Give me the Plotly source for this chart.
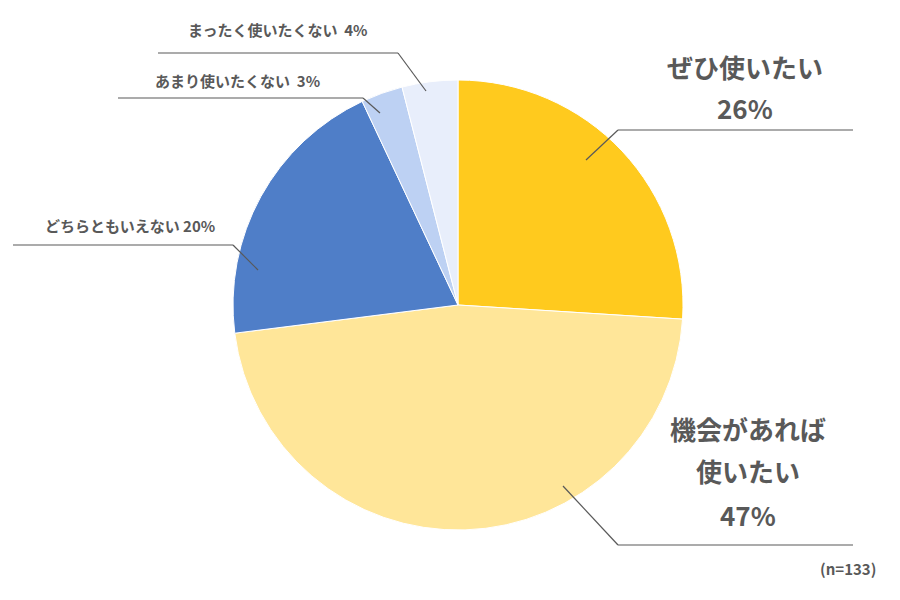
import plotly.graph_objects as go

labels = ["ぜひ使いたい", "機会があれば使いたい", "どちらともいえない", "あまり使いたくない", "まったく使いたくない"]
values = [26, 47, 20, 3, 4]
colors = ["#FFCA1E", "#FFE699", "#4F7EC8", "#BDD1F3", "#E8EEFB"]

W, H = 900, 600
FONT = "Noto Sans CJK JP"
GREY = "#595959"

fig = go.Figure(go.Pie(
    labels=labels, values=values, sort=False, direction="clockwise", rotation=0,
    marker=dict(colors=colors, line=dict(color="white", width=1)),
    textinfo="none", hoverinfo="label+percent",
    domain=dict(x=[0.25, 0.75], y=[0.13, 0.88]),
))

def px(x, y):
    return x / W, 1 - y / H

def leader(points):
    for (x0, y0), (x1, y1) in zip(points, points[1:]):
        a, b = px(x0, y0)
        c, d = px(x1, y1)
        fig.add_shape(type="line", xref="paper", yref="paper", x0=a, y0=b, x1=c, y1=d,
                      line=dict(color=GREY, width=1.2))

def text(x, y, s, size):
    a, b = px(x, y)
    fig.add_annotation(x=a, y=b, xref="paper", yref="paper", text=s, showarrow=False,
                       font=dict(family=FONT, size=size, color=GREY), xanchor="center", yanchor="middle")

leader([(578, 152), (610, 122), (845, 122)])
text(737, 58, "<b>ぜひ使いたい</b>", 26)
text(737, 100, "<b>26%</b>", 26)

leader([(555, 478), (610, 537), (845, 537)])
text(740, 420, "<b>機会があれば</b>", 26)
text(740, 463, "<b>使いたい</b>", 26)
text(740, 506, "<b>47%</b>", 26)

leader([(5, 237), (225, 237), (250, 262)])
text(122, 218, "<b>どちらともいえない 20%</b>", 15)

leader([(110, 90), (355, 90), (372, 105)])
text(230, 72, "<b>あまり使いたくない  3%</b>", 15)

leader([(150, 45), (390, 45), (418, 83)])
text(270, 22, "<b>まったく使いたくない  4%</b>", 15)

text(840, 560, "<b>(n=133)</b>", 15)

fig.update_layout(width=W, height=H, margin=dict(l=0, r=0, t=0, b=0),
                  showlegend=False, paper_bgcolor="white", font=dict(family=FONT))
fig.write_html("out.html")
